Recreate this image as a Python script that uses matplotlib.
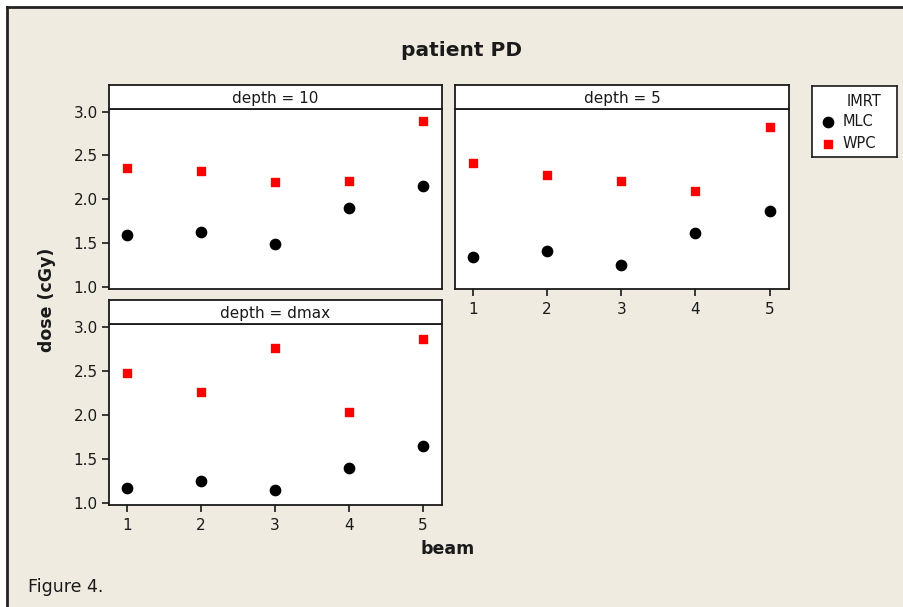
import matplotlib
matplotlib.use("Agg")
import matplotlib.pyplot as plt
from matplotlib.patches import Rectangle
from matplotlib.lines import Line2D

beams = [1, 2, 3, 4, 5]
depths = ["depth = 10", "depth = 5", "depth = dmax"]

# dose (cGy) per beam
mlc_d10 = [1.59, 1.63, 1.49, 1.90, 2.15]
wpc_d10 = [2.36, 2.32, 2.20, 2.21, 2.89]
mlc_d5 = [1.34, 1.41, 1.25, 1.61, 1.86]
wpc_d5 = [2.41, 2.28, 2.21, 2.09, 2.82]
mlc_dmax = [1.17, 1.25, 1.15, 1.40, 1.64]
wpc_dmax = [2.47, 2.26, 2.76, 2.03, 2.86]

y_ticks = [1.0, 1.5, 2.0, 2.5, 3.0]

W, H = 904, 607
bg = "#EFEBE1"

fig = plt.figure(figsize=(W / 100, H / 100), dpi=100, facecolor="white")

# framed beige background, kept behind the axes
fig.patches.append(Rectangle((8 / W, 0), 1, 1 - 8 / H, transform=fig.transFigure,
                             facecolor=bg, edgecolor="none", zorder=-10))
fig.lines.append(Line2D([7 / W, 1], [1 - 7 / H, 1 - 7 / H], transform=fig.transFigure,
                        color="#222222", lw=2, zorder=-5))
fig.lines.append(Line2D([7 / W, 7 / W], [0, 1 - 7 / H], transform=fig.transFigure,
                        color="#222222", lw=2, zorder=-5))


def px_axes(x0, y0, x1, y1):
    return fig.add_axes([x0 / W, 1 - y1 / H, (x1 - x0) / W, (y1 - y0) / H])


panels = [
    (depths[0], mlc_d10, wpc_d10, (109, 109, 442, 289), True, False),
    (depths[1], mlc_d5, wpc_d5, (455, 109, 789, 289), False, True),
    (depths[2], mlc_dmax, wpc_dmax, (109, 324, 442, 505), True, True),
]

for label, mlc, wpc, (x0, y0, x1, y1), show_y, show_x in panels:
    ax = px_axes(x0, y0, x1, y1)
    ax.set_facecolor("white")
    ax.scatter(beams, mlc, s=55, marker="o", color="black", zorder=3)
    ax.scatter(beams, wpc, s=34, marker="s", color="#FF0000", zorder=3)
    ax.set_xlim(0.76, 5.26)
    ax.set_ylim(0.975, 3.03)
    for sp in ax.spines.values():
        sp.set_linewidth(1.3)
        sp.set_color("#1a1a1a")
    ax.tick_params(direction="out", length=5, width=1.2, labelsize=11, colors="#1a1a1a")
    ax.set_xticks(beams)
    ax.set_yticks(y_ticks)
    ax.set_yticklabels([f"{v:.1f}" for v in y_ticks])
    if not show_y:
        ax.tick_params(axis="y", left=False, labelleft=False)
    if not show_x:
        ax.tick_params(axis="x", bottom=False, labelbottom=False)
    ax.tick_params(axis="x", pad=4)
    ax.tick_params(axis="y", pad=3)

    # strip above panel
    st = px_axes(x0, y0 - 24, x1, y0)
    st.set_facecolor("white")
    st.set_xticks([])
    st.set_yticks([])
    for sp in st.spines.values():
        sp.set_linewidth(1.3)
        sp.set_color("#1a1a1a")
    st.text(0.5, 0.45, label, ha="center", va="center", fontsize=11, color="#1a1a1a",
            transform=st.transAxes)

# legend box
lg = px_axes(812, 86, 897, 157)
lg.set_facecolor("white")
lg.set_xlim(0, 85)
lg.set_ylim(71, 0)
lg.set_xticks([])
lg.set_yticks([])
for sp in lg.spines.values():
    sp.set_linewidth(1.2)
    sp.set_color("#1a1a1a")
lg.text(52, 15, "IMRT", ha="center", va="center", fontsize=10.5, color="#1a1a1a")
lg.scatter([16], [36], s=55, marker="o", color="black", clip_on=False)
lg.text(31, 36, "MLC", ha="left", va="center", fontsize=10.5, color="#1a1a1a")
lg.scatter([16], [58], s=34, marker="s", color="#FF0000", clip_on=False)
lg.text(31, 58, "WPC", ha="left", va="center", fontsize=10.5, color="#1a1a1a")

fig.text(462 / W, 1 - 50 / H, "patient PD", ha="center", va="center",
         fontsize=14.5, fontweight="bold", color="#1a1a1a")
fig.text(47 / W, 1 - 300 / H, "dose (cGy)", ha="center", va="center", rotation=90,
         fontsize=12.5, fontweight="bold", color="#1a1a1a")
fig.text(448 / W, 1 - 549 / H, "beam", ha="center", va="center",
         fontsize=12.5, fontweight="bold", color="#1a1a1a")
fig.text(28 / W, 1 - 587 / H, "Figure 4.", ha="left", va="center",
         fontsize=12.5, color="#1a1a1a")

fig.savefig("out.png", dpi=100, facecolor=fig.get_facecolor())
